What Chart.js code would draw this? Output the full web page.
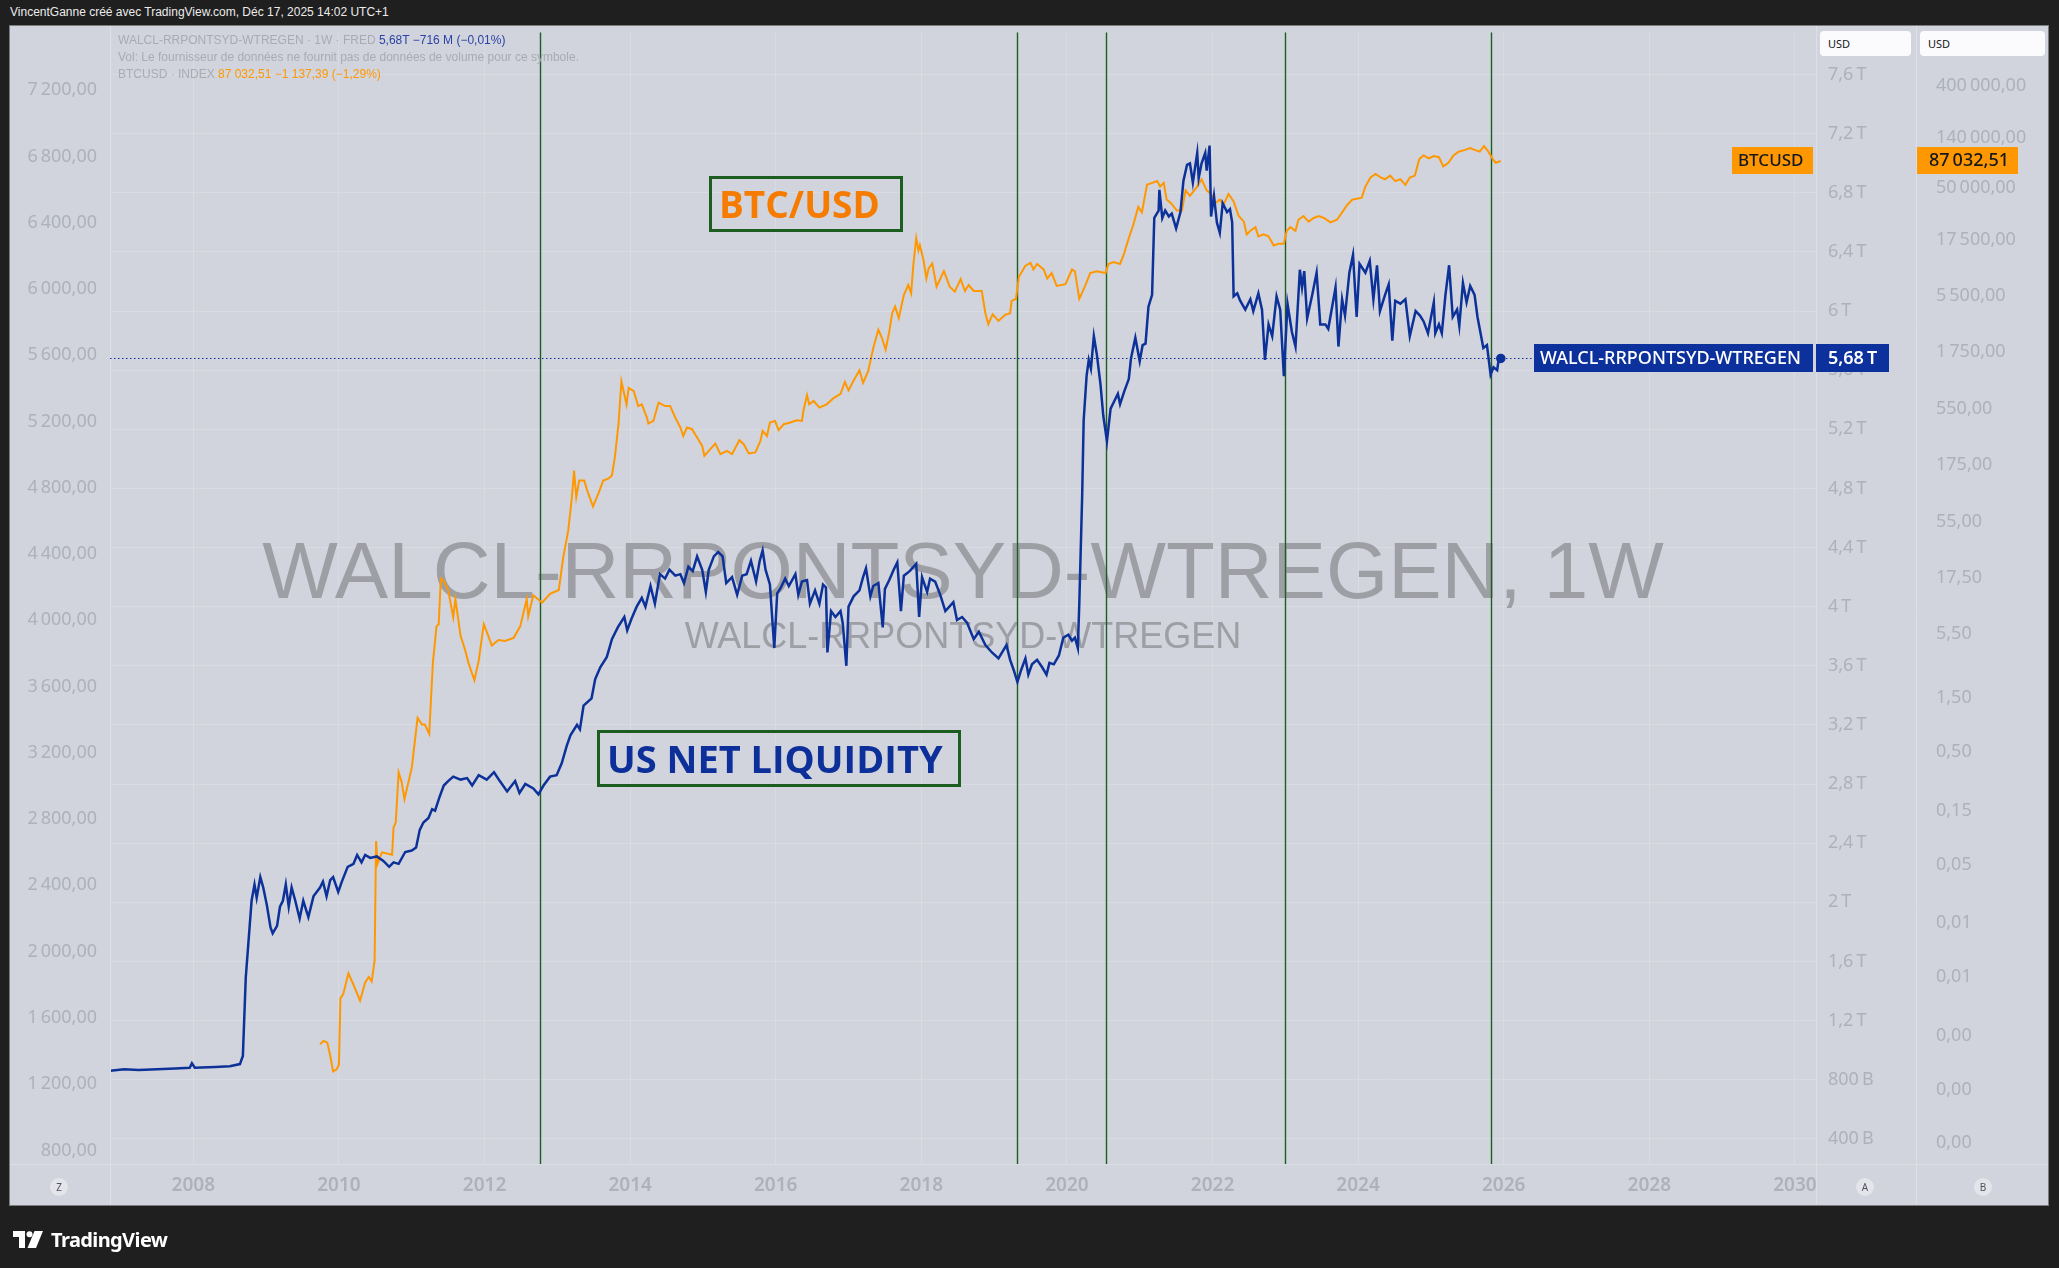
<!DOCTYPE html>
<html lang="fr">
<head>
<meta charset="utf-8">
<title>US Net Liquidity vs BTCUSD</title>
<script src="https://cdn.jsdelivr.net/npm/chart.js@4.4.1/dist/chart.umd.min.js"></script>
<style>
  html, body { margin: 0; padding: 0; width: 2059px; height: 1268px; overflow: hidden; background: #1f1f1f; }
  #header { position: absolute; left: 10px; top: 5px; color: #ececec; font: 12px "Liberation Sans", Arial, sans-serif; white-space: nowrap; }
  #frame { position: absolute; left: 9px; top: 25px; width: 2038px; height: 1179px; border: 1px solid #7b7b7b; background: #d1d4dc; }
  #chart { display: block; }
  .abs { position: absolute; white-space: nowrap; }
  #legend { left: 118px; top: 32px; font: 12px "Liberation Sans", Arial, sans-serif; color: #a8abb4; line-height: 17px; }
  #legend .blue { color: #2a43a6; }
  #legend .orange { color: #ff9800; }
  .note { border: 3px solid #1b5e20; box-sizing: border-box; font-family: "Open Sans", "Noto Sans", sans-serif; font-weight: 700; font-size: 37px; line-height: 50px; padding-left: 7px; }
  .usd { background: #fbfbfd; border-radius: 4px; height: 25px; top: 31px; font: 11px "Noto Sans", sans-serif; color: #131722; line-height: 25px; padding-left: 8px; box-sizing: border-box; }
  .badge { width: 18px; height: 18px; border-radius: 9px; background: #e3e5ea; color: #50535e; font: 10px "Noto Sans", sans-serif; line-height: 18px; text-align: center; top: 1178px; }
  #footer { left: 13px; top: 1226px; color: #ffffff; font: bold 20px "Noto Sans", sans-serif; letter-spacing: -0.6px; display: flex; align-items: center; gap: 8px; }
</style>
</head>
<body>
<div id="header">VincentGanne créé avec TradingView.com, Déc 17, 2025 14:02 UTC+1</div>
<div id="frame"><canvas id="chart" width="2038" height="1179"></canvas></div>

<div id="legend" class="abs">
  <div>WALCL-RRPONTSYD-WTREGEN · 1W · FRED <span class="blue">5,68T −716 M (−0,01%)</span></div>
  <div>Vol: Le fournisseur de données ne fournit pas de données de volume pour ce symbole.</div>
  <div>BTCUSD · INDEX <span class="orange">87 032,51 −1 137,39 (−1,29%)</span></div>
</div>

<div class="abs note" style="left:709px; top:176px; width:194px; height:56px; color:#f57c00;">BTC/USD</div>
<div class="abs note" style="left:597px; top:730px; width:364px; height:57px; color:#0d2f9a; font-size:38px;">US NET LIQUIDITY</div>

<div class="abs usd" style="left:1820px; width:91px;">USD</div>
<div class="abs usd" style="left:1920px; width:125px;">USD</div>
<div class="abs badge" style="left:50px;">Z</div>
<div class="abs badge" style="left:1856px;">A</div>
<div class="abs badge" style="left:1974px;">B</div>

<div id="footer" class="abs">
  <svg width="30" height="17" viewBox="0 0 30 17">
    <path d="M0 0 H12 V17 H6 V6 H0 Z" fill="#fff"/>
    <circle cx="16.5" cy="3.2" r="3" fill="#fff"/>
    <path d="M21.5 0 H30 L23 17 H14.5 Z" fill="#fff"/>
  </svg>
  <span>TradingView</span>
</div>

<script>
// US net liquidity (WALCL - RRPONTSYD - WTREGEN), trillions USD, [decimal year, value]
const liquidity = [
  [2006.86,0.86],[2007.05,0.87],[2007.25,0.865],[2007.5,0.87],[2007.75,0.875],[2007.95,0.88],[2007.98,0.91],[2008.02,0.88],
  [2008.3,0.885],[2008.5,0.89],[2008.64,0.905],[2008.68,0.96],[2008.72,1.49],[2008.76,1.75],[2008.80,2.01],[2008.84,2.12],
  [2008.87,2.03],[2008.92,2.17],[2008.96,2.10],[2009.01,1.98],[2009.06,1.83],[2009.09,1.79],[2009.15,1.84],[2009.19,1.97],
  [2009.23,2.01],[2009.27,2.12],[2009.31,1.97],[2009.35,2.10],[2009.40,2.01],[2009.46,1.89],[2009.51,2.01],[2009.58,1.90],
  [2009.65,2.04],[2009.74,2.10],[2009.78,2.14],[2009.83,2.04],[2009.88,2.15],[2009.92,2.17],[2009.99,2.07],[2010.04,2.14],
  [2010.12,2.24],[2010.20,2.26],[2010.25,2.32],[2010.31,2.27],[2010.36,2.32],[2010.43,2.30],[2010.52,2.31],[2010.61,2.28],
  [2010.69,2.24],[2010.75,2.27],[2010.82,2.26],[2010.91,2.34],[2011.00,2.35],[2011.06,2.37],[2011.11,2.49],[2011.16,2.54],
  [2011.23,2.57],[2011.28,2.63],[2011.32,2.62],[2011.38,2.71],[2011.44,2.79],[2011.50,2.82],[2011.57,2.85],[2011.67,2.83],
  [2011.76,2.84],[2011.83,2.79],[2011.92,2.86],[2012.03,2.83],[2012.13,2.88],[2012.21,2.82],[2012.31,2.75],[2012.42,2.82],
  [2012.48,2.74],[2012.56,2.80],[2012.67,2.77],[2012.74,2.73],[2012.81,2.79],[2012.90,2.85],[2012.99,2.86],[2013.06,2.94],
  [2013.13,3.06],[2013.18,3.13],[2013.27,3.20],[2013.31,3.17],[2013.36,3.33],[2013.47,3.38],[2013.52,3.51],[2013.59,3.59],
  [2013.68,3.66],[2013.75,3.78],[2013.83,3.86],[2013.92,3.93],[2013.96,3.84],[2014.02,3.92],[2014.09,4.00],[2014.16,4.06],
  [2014.21,4.00],[2014.28,4.14],[2014.34,4.02],[2014.41,4.22],[2014.48,4.19],[2014.54,4.25],[2014.62,4.21],[2014.69,4.22],
  [2014.74,4.16],[2014.80,4.27],[2014.86,4.24],[2014.92,4.34],[2014.99,4.25],[2015.04,4.10],[2015.08,4.25],[2015.15,4.34],
  [2015.21,4.37],[2015.27,4.34],[2015.32,4.16],[2015.40,4.20],[2015.47,4.08],[2015.54,4.21],[2015.60,4.22],[2015.66,4.31],
  [2015.73,4.17],[2015.78,4.31],[2015.82,4.38],[2015.86,4.25],[2015.92,4.15],[2015.98,3.72],[2016.02,4.09],[2016.06,4.12],
  [2016.13,4.19],[2016.18,4.14],[2016.27,4.22],[2016.31,4.08],[2016.36,4.17],[2016.43,4.18],[2016.47,4.02],[2016.54,4.11],
  [2016.60,4.02],[2016.65,4.15],[2016.69,4.13],[2016.71,3.69],[2016.76,3.97],[2016.82,3.93],[2016.89,3.97],[2016.92,3.89],
  [2016.97,3.60],[2017.00,4.00],[2017.07,4.07],[2017.15,4.11],[2017.20,4.20],[2017.24,4.26],[2017.30,4.07],[2017.34,4.14],
  [2017.41,4.16],[2017.47,3.86],[2017.50,4.12],[2017.56,4.18],[2017.62,4.25],[2017.67,4.30],[2017.72,3.97],[2017.76,4.21],
  [2017.84,4.24],[2017.93,4.29],[2017.97,3.93],[2018.01,4.20],[2018.08,4.10],[2018.12,4.19],[2018.19,4.17],[2018.26,4.08],
  [2018.33,3.97],[2018.44,4.03],[2018.49,3.91],[2018.56,3.93],[2018.63,3.89],[2018.72,3.78],[2018.79,3.83],[2018.88,3.74],
  [2018.97,3.69],[2019.06,3.65],[2019.17,3.74],[2019.22,3.64],[2019.27,3.57],[2019.32,3.49],[2019.37,3.57],[2019.43,3.65],
  [2019.47,3.54],[2019.52,3.61],[2019.59,3.64],[2019.66,3.59],[2019.72,3.54],[2019.76,3.62],[2019.82,3.61],[2019.89,3.67],
  [2019.95,3.79],[2020.02,3.81],[2020.07,3.77],[2020.11,3.79],[2020.15,3.72],[2020.17,4.02],[2020.21,4.76],[2020.23,5.26],
  [2020.27,5.56],[2020.30,5.67],[2020.33,5.61],[2020.37,5.83],[2020.41,5.71],[2020.46,5.51],[2020.50,5.29],[2020.55,5.12],
  [2020.60,5.34],[2020.66,5.40],[2020.70,5.44],[2020.73,5.37],[2020.79,5.46],[2020.85,5.54],[2020.88,5.68],[2020.94,5.82],
  [2021.00,5.66],[2021.04,5.77],[2021.08,5.78],[2021.12,6.03],[2021.17,6.11],[2021.20,6.63],[2021.26,6.68],[2021.27,6.82],
  [2021.31,6.63],[2021.35,6.68],[2021.40,6.64],[2021.44,6.66],[2021.50,6.56],[2021.56,6.67],[2021.60,6.88],[2021.65,6.99],
  [2021.69,7.00],[2021.73,6.87],[2021.79,7.07],[2021.81,6.90],[2021.85,7.00],[2021.90,7.07],[2021.92,6.95],[2021.96,7.12],
  [2021.98,6.64],[2022.02,6.78],[2022.06,6.60],[2022.10,6.53],[2022.14,6.73],[2022.20,6.67],[2022.24,6.69],[2022.27,6.60],
  [2022.29,6.10],[2022.34,6.12],[2022.38,6.07],[2022.45,6.01],[2022.52,6.08],[2022.56,6.00],[2022.63,6.12],[2022.68,6.01],
  [2022.72,5.67],[2022.77,5.91],[2022.82,5.83],[2022.88,6.10],[2022.93,6.01],[2022.98,5.56],[2023.03,6.05],[2023.09,5.86],
  [2023.14,5.76],[2023.20,6.28],[2023.23,6.16],[2023.26,6.27],[2023.30,5.95],[2023.37,6.11],[2023.43,6.26],[2023.48,5.91],
  [2023.55,5.91],[2023.59,5.88],[2023.69,6.16],[2023.73,5.76],[2023.78,6.08],[2023.82,5.97],[2023.88,6.26],[2023.93,6.38],
  [2023.98,5.96],[2024.02,6.32],[2024.10,6.26],[2024.16,6.34],[2024.21,6.08],[2024.26,6.31],[2024.30,6.00],[2024.37,6.11],
  [2024.42,6.18],[2024.47,5.80],[2024.51,6.07],[2024.58,6.05],[2024.65,6.08],[2024.71,5.83],[2024.79,6.00],[2024.85,5.97],
  [2024.90,5.93],[2024.96,5.85],[2025.04,6.06],[2025.06,5.85],[2025.11,5.91],[2025.15,5.85],[2025.20,6.11],[2025.25,6.31],
  [2025.30,5.96],[2025.36,6.01],[2025.39,5.90],[2025.44,6.19],[2025.49,6.06],[2025.54,6.17],[2025.60,6.11],[2025.64,5.96],
  [2025.69,5.83],[2025.72,5.75],[2025.77,5.77],[2025.82,5.57],[2025.86,5.62],[2025.91,5.60],[2025.93,5.67],[2025.96,5.68]
];

// BTCUSD index, USD, [decimal year, close] (read against the log scale B)
const btcusd = [
  [2009.74,0.00127],[2009.79,0.00136],[2009.84,0.00131],[2009.88,0.00101],[2009.92,0.00073],[2009.97,0.00076],[2010.00,0.00084],
  [2010.02,0.00324],[2010.06,0.00355],[2010.13,0.0054],[2010.20,0.00428],[2010.29,0.00309],[2010.36,0.00448],[2010.41,0.00501],
  [2010.45,0.00457],[2010.49,0.00702],[2010.51,0.0807],[2010.53,0.0506],[2010.59,0.064],[2010.73,0.061],[2010.75,0.107],
  [2010.78,0.117],[2010.82,0.327],[2010.86,0.272],[2010.90,0.19],[2011.00,0.359],[2011.08,1.0],[2011.14,0.871],[2011.18,0.871],
  [2011.24,0.723],[2011.29,3.06],[2011.34,6.47],[2011.37,6.76],[2011.40,17.2],[2011.44,16.4],[2011.50,13.6],[2011.57,7.78],
  [2011.60,11.3],[2011.67,5.36],[2011.73,4.06],[2011.78,3.06],[2011.86,2.15],[2011.92,3.21],[2011.99,6.76],[2012.05,5.36],
  [2012.10,4.37],[2012.19,4.89],[2012.28,4.8],[2012.40,5.12],[2012.49,6.47],[2012.58,11.3],[2012.60,7.94],[2012.67,12.2],
  [2012.79,10.5],[2012.90,12.6],[2013.02,13.6],[2013.08,26.2],[2013.15,46.0],[2013.20,90.6],[2013.23,156],[2013.26,90.6],
  [2013.30,127],[2013.37,127],[2013.41,104],[2013.49,74.8],[2013.57,100],[2013.63,127],[2013.70,132],[2013.75,141],
  [2013.79,204],[2013.84,402],[2013.88,968],[2013.91,791],[2013.95,603],[2013.98,845],[2014.05,791],[2014.11,582],
  [2014.16,603],[2014.23,460],[2014.25,407],[2014.32,430],[2014.39,624],[2014.48,582],[2014.55,582],[2014.62,460],
  [2014.69,376],[2014.73,316],[2014.78,376],[2014.85,363],[2014.92,307],[2014.99,258],[2015.02,211],[2015.08,233],
  [2015.17,271],[2015.24,218],[2015.33,233],[2015.40,218],[2015.50,290],[2015.56,267],[2015.63,221],[2015.72,226],
  [2015.79,286],[2015.82,351],[2015.88,316],[2015.92,416],[2015.99,430],[2016.04,356],[2016.11,402],[2016.20,416],
  [2016.29,436],[2016.36,430],[2016.38,526],[2016.43,728],[2016.46,603],[2016.52,646],[2016.60,564],[2016.70,603],
  [2016.79,681],[2016.89,748],[2016.95,955],[2017.00,802],[2017.07,982],[2017.15,1211],[2017.20,938],[2017.27,1186],
  [2017.34,1905],[2017.41,2767],[2017.46,2339],[2017.51,1841],[2017.56,2673],[2017.60,3882],[2017.64,4436],[2017.69,3508],
  [2017.76,5636],[2017.82,6902],[2017.86,5821],[2017.89,10351],[2017.93,18030],[2017.96,14028],[2017.98,15560],[2018.03,11455],
  [2018.07,7907],[2018.10,9683],[2018.15,10715],[2018.21,6668],[2018.31,9162],[2018.39,6668],[2018.46,6026],[2018.54,7798],
  [2018.60,6109],[2018.65,6902],[2018.72,6109],[2018.83,6109],[2018.88,3882],[2018.92,3105],[2018.98,3802],[2019.06,3319],
  [2019.15,3750],[2019.22,3882],[2019.24,4989],[2019.30,5188],[2019.34,8166],[2019.43,10233],[2019.50,10864],[2019.54,9484],
  [2019.59,10617],[2019.68,9484],[2019.73,7870],[2019.79,8810],[2019.86,6776],[2019.98,7031],[2020.07,9484],[2020.11,9141],
  [2020.17,5200],[2020.25,6776],[2020.32,8810],[2020.41,9141],[2020.53,8810],[2020.57,10617],[2020.64,11015],[2020.73,10617],
  [2020.78,12823],[2020.85,17989],[2020.91,23388],[2020.98,34041],[2021.03,30479],[2021.10,53456],[2021.17,55590],[2021.24,57677],
  [2021.28,51523],[2021.33,55590],[2021.37,39537],[2021.43,36728],[2021.51,31623],[2021.58,31623],[2021.63,47753],[2021.69,42658],
  [2021.79,51523],[2021.85,59841],[2021.92,47753],[2021.98,44361],[2022.04,36728],[2022.10,39537],[2022.15,35400],[2022.22,44361],
  [2022.29,38107],[2022.36,28249],[2022.43,25177],[2022.47,19409],[2022.52,20893],[2022.59,22542],[2022.63,18664],[2022.70,19409],
  [2022.77,18664],[2022.84,15488],[2022.91,16069],[2022.98,16069],[2023.02,20893],[2023.07,22542],[2023.14,20893],[2023.18,26182],
  [2023.25,28249],[2023.32,25177],[2023.39,27164],[2023.46,28249],[2023.53,27164],[2023.62,24831],[2023.71,26182],[2023.78,30479],
  [2023.85,35400],[2023.92,39537],[2023.98,40179],[2024.05,41115],[2024.10,51523],[2024.17,62087],[2024.24,66834],[2024.31,62087],
  [2024.37,59841],[2024.44,64565],[2024.51,57677],[2024.58,59841],[2024.65,53456],[2024.71,62087],[2024.78,64565],[2024.84,90365],
  [2024.90,97499],[2024.97,91833],[2025.04,96161],[2025.11,93972],[2025.17,77804],[2025.24,83946],[2025.31,97499],[2025.38,105196],
  [2025.47,109144],[2025.54,113240],[2025.60,109144],[2025.67,105196],[2025.73,117761],[2025.79,105196],[2025.85,90365],[2025.89,83946],
  [2025.96,87032.51]
];

// vertical marker lines (decimal years)
const markerYears = [2012.765, 2019.32, 2020.54, 2022.99, 2025.82];

// axis ticks
const yearTicks = [2008, 2010, 2012, 2014, 2016, 2018, 2020, 2022, 2024, 2026, 2028, 2030];
const leftTicks = [800, 1200, 1600, 2000, 2400, 2800, 3200, 3600, 4000, 4400, 4800, 5200, 5600, 6000, 6400, 6800, 7200];
const liqTicks = [0.4, 0.8, 1.2, 1.6, 2, 2.4, 2.8, 3.2, 3.6, 4, 4.4, 4.8, 5.2, 5.6, 6, 6.4, 6.8, 7.2, 7.6];
const btcTicks = [400000, 140000, 50000, 17500, 5500, 1750, 550, 175, 55, 17.5, 5.5, 1.5, 0.5, 0.15, 0.05, 0.015, 0.005, 0.0015, 0.0005, 0.00017];

const liqName = "WALCL-RRPONTSYD-WTREGEN";
const btcName = "BTCUSD";

// french number format: 7 200,00
function frNum(v, dec) {
  const parts = v.toFixed(dec).split(".");
  const int = parts[0].replace(/\B(?=(\d{3})+(?!\d))/g, "\u202f");
  return parts[1] ? int + "," + parts[1] : int;
}
function liqLabel(v) {
  if (v < 1) return frNum(v * 1000, 0) + "\u202fB";
  const r = Math.round(v * 10) / 10;
  return frNum(r, r % 1 ? 1 : 0) + "\u202fT";
}

const axisFont = { family: "'Noto Sans', sans-serif", size: 18 };
const labelColor = "#aeb1ba";
const gridColor = "rgba(255,255,255,0.16)";

function fixWidth(w) {
  return (scale) => {
    scale.width = w;
    scale.paddingTop = 0;
    scale.paddingBottom = 0;
  };
}
function setTicks(list) {
  return (scale) => { scale.ticks = list.map((v) => ({ value: v })); };
}

const overlay = {
  id: "overlay",
  beforeDatasetsDraw(chart) {
    const { ctx, chartArea: a, scales } = chart;
    const cx = (a.left + a.right) / 2;
    ctx.save();
    // watermark
    ctx.fillStyle = "#9d9fa5";
    ctx.textAlign = "center";
    ctx.textBaseline = "alphabetic";
    ctx.font = "80px 'Liberation Sans', Arial, sans-serif";
    ctx.fillText(liqName + ", 1W", cx, 572);
    ctx.font = "36px 'Liberation Sans', Arial, sans-serif";
    ctx.fillText(liqName, cx, 622);
    // green vertical markers
    ctx.strokeStyle = "#1b5e20";
    ctx.lineWidth = 1.4;
    markerYears.forEach((yr) => {
      const px = Math.round(scales.x.getPixelForValue(yr)) + 0.5;
      ctx.beginPath();
      ctx.moveTo(px, a.top);
      ctx.lineTo(px, a.bottom);
      ctx.stroke();
    });
    ctx.restore();
  },
  afterDraw(chart) {
    const { ctx, chartArea: a, scales, width, height } = chart;
    ctx.save();
    // pane separators
    ctx.strokeStyle = "#dcdfe5";
    ctx.lineWidth = 1;
    [a.left, a.right, scales.B.left].forEach((px) => {
      ctx.beginPath();
      ctx.moveTo(Math.round(px) + 0.5, 0);
      ctx.lineTo(Math.round(px) + 0.5, height);
      ctx.stroke();
    });
    ctx.beginPath();
    ctx.moveTo(0, Math.round(a.bottom) + 0.5);
    ctx.lineTo(width, Math.round(a.bottom) + 0.5);
    ctx.stroke();

    const lastLiq = liquidity[liquidity.length - 1][1];
    const lastBtc = btcusd[btcusd.length - 1][1];
    const yl = Math.round(scales.A.getPixelForValue(lastLiq));
    const yb = Math.round(scales.B.getPixelForValue(lastBtc));

    // dotted price line
    ctx.strokeStyle = "#0c3199";
    ctx.setLineDash([1.5, 2.5]);
    ctx.beginPath();
    ctx.moveTo(a.left, yl + 0.5);
    ctx.lineTo(a.right - 282, yl + 0.5);
    ctx.stroke();
    ctx.setLineDash([]);

    ctx.textBaseline = "middle";
    ctx.textAlign = "left";
    // liquidity labels
    ctx.fillStyle = "#0c309c";
    ctx.fillRect(a.right - 282, yl - 14, 279, 28);
    ctx.fillRect(a.right, yl - 14, 73, 28);
    ctx.fillStyle = "#ffffff";
    ctx.font = "500 18px 'Noto Sans', sans-serif";
    ctx.fillText(liqName, a.right - 276, yl + 1);
    ctx.font = "600 18px 'Noto Sans', sans-serif";
    ctx.fillText(frNum(lastLiq, 2) + "\u202fT", a.right + 12, yl + 1);
    // btc labels
    ctx.fillStyle = "#ff9800";
    ctx.fillRect(a.right - 84, yb - 14, 81, 27);
    ctx.fillRect(scales.B.left + 1, yb - 14, 101, 27);
    ctx.fillStyle = "#131722";
    ctx.font = "500 17px 'Noto Sans', sans-serif";
    ctx.fillText(btcName, a.right - 78, yb);
    ctx.font = "500 18px 'Noto Sans', sans-serif";
    ctx.fillText(frNum(lastBtc, 2), scales.B.left + 13, yb);
    ctx.restore();
  }
};

const chart = new Chart(document.getElementById("chart"), {
  type: "line",
  data: {
    datasets: [
      {
        label: liqName,
        data: liquidity.map((p) => ({ x: p[0], y: p[1] })),
        yAxisID: "A",
        borderColor: "#0c3199",
        backgroundColor: "#0c3199",
        borderWidth: 2.5,
        pointRadius: (c) => (c.dataIndex === liquidity.length - 1 ? 3.5 : 0),
        tension: 0,
      },
      {
        label: btcName,
        data: btcusd.map((p) => ({ x: p[0], y: p[1] })),
        yAxisID: "B",
        borderColor: "#ff9800",
        borderWidth: 2,
        pointRadius: 0,
        tension: 0,
      },
    ],
  },
  options: {
    responsive: false,
    animation: false,
    devicePixelRatio: 1,
    events: [],
    layout: { padding: 0 },
    plugins: { legend: { display: false }, tooltip: { enabled: false } },
    scales: {
      x: {
        type: "linear",
        position: "bottom",
        min: 2006.855,
        max: 2030.29,
        afterBuildTicks: setTicks(yearTicks),
        afterFit: (s) => { s.height = 41; s.paddingLeft = 0; s.paddingRight = 0; },
        grid: { color: gridColor, drawTicks: false },
        border: { display: false },
        ticks: {
          autoSkip: false,
          maxRotation: 0,
          padding: 10,
          color: labelColor,
          font: { family: "'Noto Sans', sans-serif", size: 19, weight: "600" },
          callback: (v) => String(v),
        },
      },
      Z: {
        type: "linear",
        position: "left",
        min: 718,
        max: 7548,
        afterBuildTicks: setTicks(leftTicks),
        afterFit: fixWidth(100),
        grid: { display: false },
        border: { display: false },
        ticks: { autoSkip: false, padding: 5, color: labelColor, font: axisFont, callback: (v) => frNum(v, 2) },
      },
      A: {
        type: "linear",
        position: "right",
        weight: 0,
        min: 0.229,
        max: 7.885,
        afterBuildTicks: setTicks(liqTicks),
        afterFit: fixWidth(100),
        grid: { color: gridColor, drawTicks: false },
        border: { display: false },
        ticks: { autoSkip: false, padding: 12, color: labelColor, font: axisFont, callback: (v) => liqLabel(v) },
      },
      B: {
        type: "logarithmic",
        position: "right",
        weight: 1,
        min: 1.1e-4,
        max: 1.2e6,
        afterBuildTicks: setTicks(btcTicks),
        afterFit: fixWidth(132),
        grid: { display: false },
        border: { display: false },
        ticks: { autoSkip: false, padding: 12, color: labelColor, font: axisFont, callback: (v) => frNum(v, 2) },
      },
    },
  },
  plugins: [overlay],
});
</script>
</body>
</html>
